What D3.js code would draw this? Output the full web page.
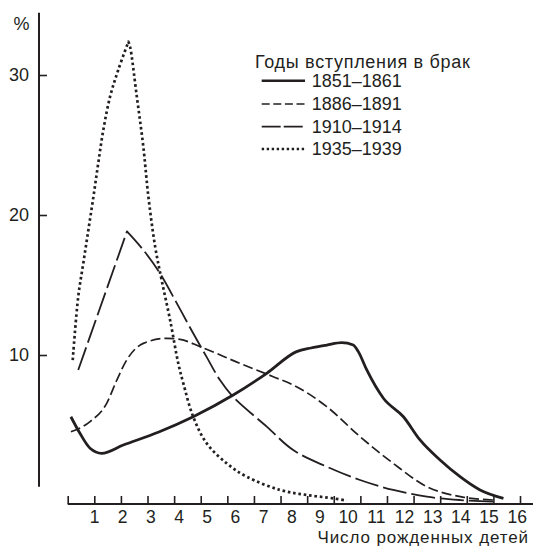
<!DOCTYPE html>
<html><head><meta charset="utf-8">
<script src="https://cdn.jsdelivr.net/npm/d3@7"></script>
<style>
html,body{margin:0;padding:0;background:#fff;}
svg{display:block;font-family:"Liberation Sans",Arial,sans-serif;}
</style></head>
<body>
<svg id="chart" width="533" height="546"></svg>
<script>
// ---- data ----
const xTickLabels = [1,2,3,4,5,6,7,8,9,10,11,12,13,14,15,16];
const yTickLabels = [10,20,30];
const seriesNames = ["1851–1861","1886–1891","1910–1914","1935–1939"];
const legendTitle = "Годы вступления в брак";
const xTitle = "Число рожденных детей";
const yUnit = "%";

const s1851x = [0.18,0.50,0.86,1.27,2.04,3.3,4.52,5.94,7.13,8.19,8.7,9.26,9.79,10.2,10.38,10.68,11.27,11.98,12.57,13.28,13.99,14.7,15.53];
const s1851y = [5.59,4.41,3.34,2.98,3.57,4.5,5.59,7.14,8.69,10.24,10.5,10.71,10.88,10.71,10.24,8.93,6.91,5.59,3.93,2.5,1.31,0.36,-0.24];

const s1886x = [0.18,0.86,1.45,1.81,2.16,2.75,3.58,4.05,4.76,6.18,7.36,8.07,9.26,10.44,11.62,12.81,14.0,15.17];
const s1886y = [4.52,5.24,6.55,8.21,9.64,10.83,11.19,11.12,10.6,9.4,8.45,7.86,6.31,4.17,2.26,0.6,-0.12,-0.36];

const s1910x = [0.44,2.17,2.75,3.34,3.94,4.52,5.0,5.47,5.94,7.13,8.07,9.26,10.44,11.62,12.81,14.0,15.16];
const s1910y = [8.93,18.83,17.5,15.84,13.69,11.55,9.85,8.21,7.0,4.88,3.21,2.02,1.07,0.36,-0.12,-0.36,-0.48];

const s1935x = [0.245,0.44,0.62,0.80,0.98,1.15,1.33,1.57,1.86,2.22,2.28,2.52,2.75,2.93,3.17,3.40,3.70,3.99,4.17,4.52,5.0,5.71,6.42,7.6,8.55,9.49,9.97];
const s1935y = [9.64,14.16,16.55,18.93,21.31,23.69,26.07,28.45,30.36,32.38,32.02,28.45,24.88,21.31,17.74,15.36,12.5,9.41,7.98,5.59,3.69,2.26,1.31,0.36,0.0,-0.24,-0.4];

// ---- layout ----
const svg = d3.select("#chart");
const x = d3.scaleLinear().domain([1,16]).range([94,516.7]);
const xTicks = d3.scaleLinear().domain([0,17]).range([67.7,520]);
const y = d3.scaleLinear().domain([10,30]).range([355,75]);

const ink = "#231f20";
const FONT = "Liberation Sans, Arial, sans-serif";

// y axis
svg.append("line").attr("x1",39).attr("x2",39).attr("y1",12.7).attr("y2",486.7)
  .attr("stroke",ink).attr("stroke-width",2);
const yAxisTicks = svg.append("g").attr("transform","translate(39,0)")
  .call(d3.axisRight(y).tickValues(yTickLabels).tickSize(8).tickFormat(""));
yAxisTicks.select(".domain").remove();
yAxisTicks.selectAll("line").attr("stroke",ink).attr("stroke-width",1.6);
const yAxisLabels = svg.append("g").attr("transform","translate(29,0)")
  .call(d3.axisLeft(y).tickValues(yTickLabels).tickSize(0).tickPadding(0));
yAxisLabels.select(".domain").remove();
yAxisLabels.selectAll("text").attr("font-size",18).attr("font-family",FONT).attr("fill",ink);
svg.append("text").attr("x",29.5).attr("y",30).attr("text-anchor","end")
  .attr("font-size",18).attr("fill",ink).text(yUnit);

// x axis
svg.append("line").attr("x1",67.7).attr("x2",533).attr("y1",504).attr("y2",504)
  .attr("stroke",ink).attr("stroke-width",2);
const xAxisTicks = svg.append("g").attr("transform","translate(0,504)")
  .call(d3.axisTop(xTicks).tickValues(d3.range(0,18)).tickSize(8).tickFormat(""));
xAxisTicks.select(".domain").remove();
xAxisTicks.selectAll("line").attr("stroke",ink).attr("stroke-width",1.6);
const xAxisLabels = svg.append("g").attr("transform","translate(0,523.3)")
  .call(d3.axisBottom(x).tickValues(xTickLabels).tickSize(0).tickPadding(0));
xAxisLabels.select(".domain").remove();
xAxisLabels.selectAll("text").attr("dy",0).attr("font-size",17.5)
  .attr("font-family",FONT).attr("fill",ink);
svg.append("text").attr("x",529).attr("y",543).attr("text-anchor","end")
  .attr("font-size",17).attr("letter-spacing",0.9).attr("fill",ink).text(xTitle);

// curves
function pts(xs, ys){ return xs.map((v,i)=>[v, ys[i]]); }
const smooth = d3.line().x(d=>x(d[0])).y(d=>y(d[1])).curve(d3.curveMonotoneX);
const cr = d3.line().x(d=>x(d[0])).y(d=>y(d[1])).curve(d3.curveCatmullRom.alpha(0.5));
const lin = d3.line().x(d=>x(d[0])).y(d=>y(d[1]));
function peakPath(data, leftGen, rightGen){
  const pk = d3.maxIndex(data, d=>d[1]);
  const left = leftGen(data.slice(0,pk+1));
  const right = rightGen(data.slice(pk)).replace(/^M/,"L");
  return left + right;
}

const styles = [
  {w:2.8, dash:null},
  {w:1.7, dash:"10,4"},
  {w:1.8, dash:"24,5"},
  {w:2.7, dash:"2.6,2.8"}
];

const d1851 = pts(s1851x,s1851y), d1886 = pts(s1886x,s1886y),
      d1910 = pts(s1910x,s1910y), d1935 = pts(s1935x,s1935y);
const paths = [
  smooth(d1851),
  smooth(d1886),
  peakPath(d1910, lin, cr),
  peakPath(d1935, cr, cr)
];
paths.forEach((p,i)=>{
  svg.append("path").attr("d",p).attr("fill","none").attr("stroke",ink)
    .attr("stroke-width",styles[i].w).attr("stroke-dasharray",styles[i].dash)
    .attr("stroke-linejoin","round");
});

// legend
svg.append("text").attr("x",255).attr("y",68).attr("font-size",18).attr("letter-spacing",0.7)
  .attr("fill",ink).text(legendTitle);
const legBase = [86.7,110,132.7,155];
seriesNames.forEach((n,i)=>{
  svg.append("line").attr("x1",261.7).attr("x2",305).attr("y1",legBase[i]-6).attr("y2",legBase[i]-6)
    .attr("stroke",ink).attr("stroke-width",i===0?2.6:(i===3?2.4:1.7))
    .attr("stroke-dasharray", i===0?null:(i===1?"8,3.6":(i===2?"19,3":"2.4,2.6")));
  svg.append("text").attr("x",311.7).attr("y",legBase[i]).attr("font-size",18).attr("fill",ink).text(n);
});
</script>
</body></html>
